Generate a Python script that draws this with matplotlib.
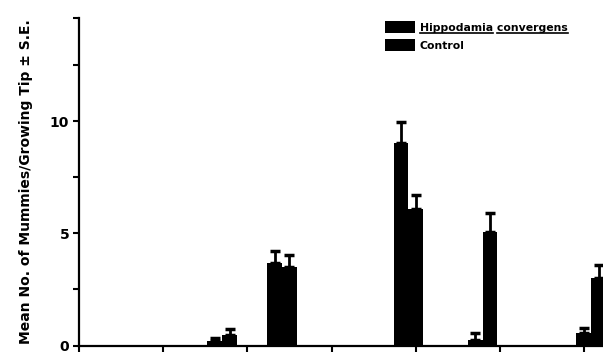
import matplotlib.pyplot as plt
import numpy as np

# Daten
dates = [1.70, 2.41, 3.91, 4.79, 6.08]  # Lage der Balkenpaare
hippo = [0.20, 3.68, 9.03, 0.25, 0.54]
hippo_se = [0.12, 0.54, 0.93, 0.29, 0.23]
control = [0.45, 3.50, 6.08, 5.08, 3.00]
control_se = [0.28, 0.55, 0.64, 0.82, 0.60]

xticks = [0, 1, 2, 3, 4, 5, 6]
yticks = [0, 2.5, 5, 7.5, 10, 12.5, 14.6]
ylabels = ['0', '', '5', '', '10', '', '']

plt.rcParams['font.family'] = ['DejaVu Sans']
plt.rcParams['font.weight'] = 'bold'

fig = plt.figure(figsize=(6.03, 3.53), dpi=100)
ax = fig.add_axes([0.131, 0.021, 0.869, 0.928])

w = 0.175
x = np.array(dates)
ax.bar(x - w / 2, hippo, w, color='black', label='Hippodamia convergens')
ax.bar(x + w / 2, control, w, color='black', label='Control')
ax.errorbar(x - w / 2, hippo, yerr=[np.zeros(5), hippo_se], fmt='none',
            ecolor='black', elinewidth=2, capsize=3.5, capthick=2.5)
ax.errorbar(x + w / 2, control, yerr=[np.zeros(5), control_se], fmt='none',
            ecolor='black', elinewidth=2, capsize=3.5, capthick=2.5)

ax.set_xlim(0, 6.22)
ax.set_ylim(0, 14.6)
ax.set_xticks(xticks)
ax.set_xticklabels([])
ax.set_yticks(yticks)
ax.set_yticklabels(ylabels, fontsize=10, fontweight='bold')
ax.tick_params(axis='both', direction='out', length=4, width=1.5, pad=3)
ax.spines['top'].set_visible(False)
ax.spines['right'].set_visible(False)
ax.spines['left'].set_linewidth(1.6)
ax.spines['bottom'].set_linewidth(1.6)
for sp in ax.spines.values():
    sp.set_clip_on(False)

ax.set_ylabel('Mean No. of Mummies/Growing Tip \u00b1 S.E.', fontsize=10,
              fontweight='bold', labelpad=12)

leg = ax.legend(loc='upper left', bbox_to_anchor=(0.566, 1.02), frameon=False,
                fontsize=7.8, handlelength=2.7, handleheight=1.3,
                handletextpad=0.5, labelspacing=0.55)
for t in leg.get_texts():
    t.set_fontweight('bold')

# Unterstreichung (je Wort) fuer den Artnamen
fig.canvas.draw()
r = fig.canvas.get_renderer()
t0 = leg.get_texts()[0]
bb = t0.get_window_extent(r)
tmp = fig.text(0, 0, 'Hippodamia', fontsize=7.8, fontweight='bold')
w1 = tmp.get_window_extent(r).width
tmp.remove()
inv = fig.transFigure.inverted()
yl = bb.y0 - 0.5
for a, b in [(bb.x0, bb.x0 + w1), (bb.x0 + w1 + 4, bb.x1)]:
    (fx0, fy0), (fx1, fy1) = inv.transform([(a, yl), (b, yl)])
    fig.add_artist(plt.Line2D([fx0, fx1], [fy0, fy1], color='black', lw=1.2))

plt.savefig('out.png', dpi=100)
